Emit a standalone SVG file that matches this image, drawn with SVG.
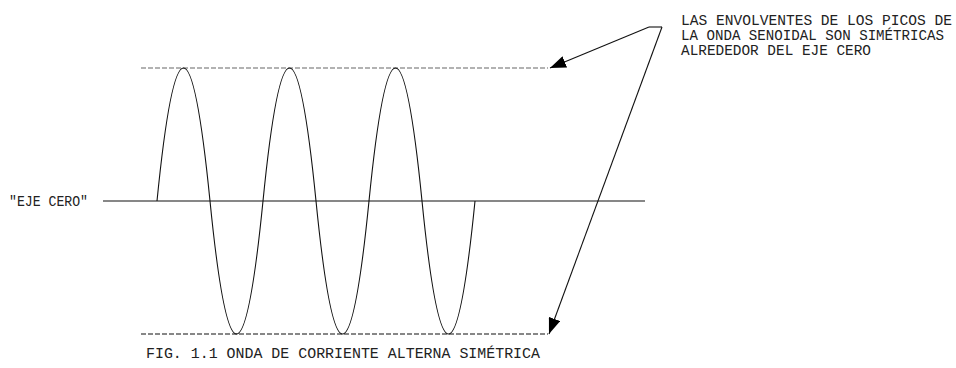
<svg xmlns="http://www.w3.org/2000/svg" width="956" height="368" viewBox="0 0 956 368">
<style>
.t{font-family:"Liberation Mono","DejaVu Sans Mono",monospace;font-size:14.5px;fill:#222;}
.ln{fill:none;stroke:#111;stroke-width:1.1;}
.dash{fill:none;stroke-width:1.1;stroke-dasharray:5 2;}
</style>
<defs>
<marker id="ah" markerUnits="userSpaceOnUse" markerWidth="16" markerHeight="12" refX="16" refY="6" orient="auto">
<path d="M0,0 L16,6 L0,12 z" fill="#000"/>
</marker>
</defs>
<rect width="956" height="368" fill="#fff"/>
<g id="envelopes">
<line class="dash" x1="141" y1="68" x2="548" y2="68" stroke="#666"/>
<line class="dash" x1="141" y1="334" x2="548" y2="334" stroke="#111"/>
</g>
<g id="zero-axis">
<line class="ln" x1="103" y1="201" x2="645" y2="201" stroke="#444"/>
</g>
<g id="wave">
<path class="ln" d="M157,201 Q183.5,-65 210,201 Q236.5,467 263,201 Q289.5,-65 316,201 Q342.5,467 369,201 Q395.5,-65 422,201 Q448.5,467 475,201"/>
</g>
<g id="connectors">
<line class="ln" x1="649" y1="27" x2="662" y2="27"/>
<line class="ln" x1="649" y1="27" x2="550" y2="68" marker-end="url(#ah)"/>
<line class="ln" x1="662" y1="27" x2="549" y2="334" marker-end="url(#ah)"/>
</g>
<g id="note">
<text class="t" x="681" y="25" textLength="271" lengthAdjust="spacingAndGlyphs">LAS ENVOLVENTES DE LOS PICOS DE</text>
<text class="t" x="681" y="40" textLength="263" lengthAdjust="spacingAndGlyphs">LA ONDA SENOIDAL SON SIMÉTRICAS</text>
<text class="t" x="681" y="55" textLength="190" lengthAdjust="spacingAndGlyphs">ALREDEDOR DEL EJE CERO</text>
</g>
<g id="axis-label">
<text class="t" x="9" y="206" textLength="79" lengthAdjust="spacingAndGlyphs">"EJE CERO"</text>
</g>
<g id="caption">
<text class="t" x="146" y="358" textLength="394" lengthAdjust="spacingAndGlyphs">FIG. 1.1 ONDA DE CORRIENTE ALTERNA SIMÉTRICA</text>
</g>
</svg>
